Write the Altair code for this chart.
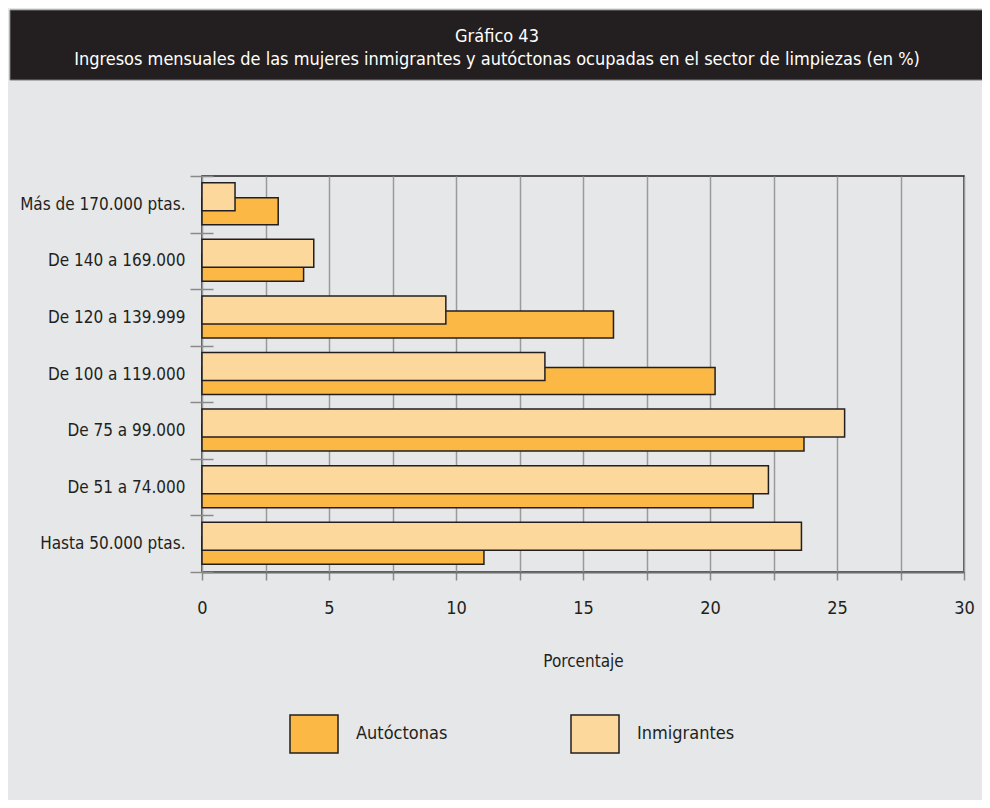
import altair as alt
import pandas as pd

categorias = [
    "Más de 170.000 ptas.",
    "De 140 a 169.000",
    "De 120 a 139.999",
    "De 100 a 119.000",
    "De 75 a 99.000",
    "De 51 a 74.000",
    "Hasta 50.000 ptas.",
]
inmigrantes = [1.3, 4.4, 9.6, 13.5, 25.3, 22.3, 23.6]
autoctonas = [3.0, 4.0, 16.2, 20.2, 23.7, 21.7, 11.1]
grupos = ["Autóctonas", "Inmigrantes"]
colores = ["#FBB845", "#FDD89C"]
ticks_x = [0, 2.5, 5, 7.5, 10, 12.5, 15, 17.5, 20, 22.5, 25, 27.5, 30]
titulo = "Gráfico 43"
subtitulo = "Ingresos mensuales de las mujeres inmigrantes y autóctonas ocupadas en el sector de limpiezas (en %)"
eje_x = "Porcentaje"

FONT = "Liberation Sans Narrow, DejaVu Sans Condensed, Roboto Condensed, Arial Narrow, sans-serif"
INK = "#231f20"
BG = "#E6E7E9"

rows = []
for c, a, i in zip(categorias, autoctonas, inmigrantes):
    rows.append({"categoria": c, "grupo": "Autóctonas", "valor": a})
    rows.append({"categoria": c, "grupo": "Inmigrantes", "valor": i})
df = pd.DataFrame(rows)

x = alt.X(
    "valor:Q",
    scale=alt.Scale(domain=[0, 30], nice=False, zero=True),
    axis=alt.Axis(
        values=ticks_x,
        labelExpr="datum.value % 5 == 0 ? datum.label : ''",
        labelFlush=False,
        title=eje_x,
        grid=True,
        gridColor="#9a9a9a",
        gridWidth=1.5,
        domainColor="#6d6d6d",
        domainWidth=2,
        tickColor="#8a8a8a",
        tickWidth=1.5,
        tickSize=8,
        labelFontSize=18,
        labelPadding=19,
        labelColor=INK,
        labelFont=FONT,
        titleFont=FONT,
        titleFontSize=17,
        titleFontWeight="normal",
        titleColor=INK,
        titlePadding=36,
    ),
)
y = alt.Y(
    "categoria:N",
    sort=categorias,
    scale=alt.Scale(paddingInner=0, paddingOuter=0),
    axis=alt.Axis(
        title=None,
        tickBand="extent",
        offset=-11,
        tickSize=23,
        tickColor="#8a8a8a",
        tickWidth=1.5,
        domain=False,
        grid=False,
        labelPadding=5,
        labelFontSize=17,
        labelLimit=300,
        labelColor=INK,
        labelFont=FONT,
    ),
)
color = alt.Color(
    "grupo:N",
    scale=alt.Scale(domain=grupos, range=colores),
    legend=alt.Legend(
        title=None,
        orient="none",
        legendX=87,
        legendY=533,
        direction="horizontal",
        padding=0,
        symbolType="M-1,-0.79L1,-0.79L1,0.79L-1,0.79Z",
        symbolSize=2304,
        symbolStrokeColor=INK,
        symbolStrokeWidth=1.5,
        symbolOpacity=1,
        labelOffset=17,
        labelFontSize=18,
        labelFont=FONT,
        labelColor=INK,
        columnPadding=120,
    ),
)

base = alt.Chart(df)
aut = base.transform_filter(alt.datum.grupo == "Autóctonas").mark_bar(
    size=27, yOffset=7, stroke=INK, strokeWidth=1.5, opacity=1
).encode(x=x, y=y, color=color)
inm = base.transform_filter(alt.datum.grupo == "Inmigrantes").mark_bar(
    size=28, yOffset=-7.5, stroke=INK, strokeWidth=1.5, opacity=1
).encode(x=x, y=y, color=color)

one = alt.Data(values=[{"t1": titulo, "t2": subtitulo}])
barra = alt.Chart(one).mark_rect(color=INK, stroke="#7a7a7a", strokeWidth=1).encode(
    x=alt.value(-192), x2=alt.value(782), y=alt.value(-166), y2=alt.value(-96)
)
t1 = alt.Chart(one).mark_text(
    color="white", font=FONT, fontSize=18, baseline="middle", align="center"
).encode(text="t1:N", x=alt.value(295), y=alt.value(-139))
t2 = alt.Chart(one).mark_text(
    color="white", font=FONT, fontSize=18, baseline="middle", align="center"
).encode(text="t2:N", x=alt.value(295), y=alt.value(-116))

chart = (
    alt.layer(barra, t1, t2, aut, inm)
    .properties(
        width=762,
        height=396,
        padding={"left": 194, "top": 168, "right": 18, "bottom": 228},
        autosize=alt.AutoSizeParams(type="none"),
        background=BG,
    )
    .configure_view(stroke=INK, strokeWidth=1.5)
)

chart.save("out.html", embed_options={"renderer": "svg", "actions": False})
